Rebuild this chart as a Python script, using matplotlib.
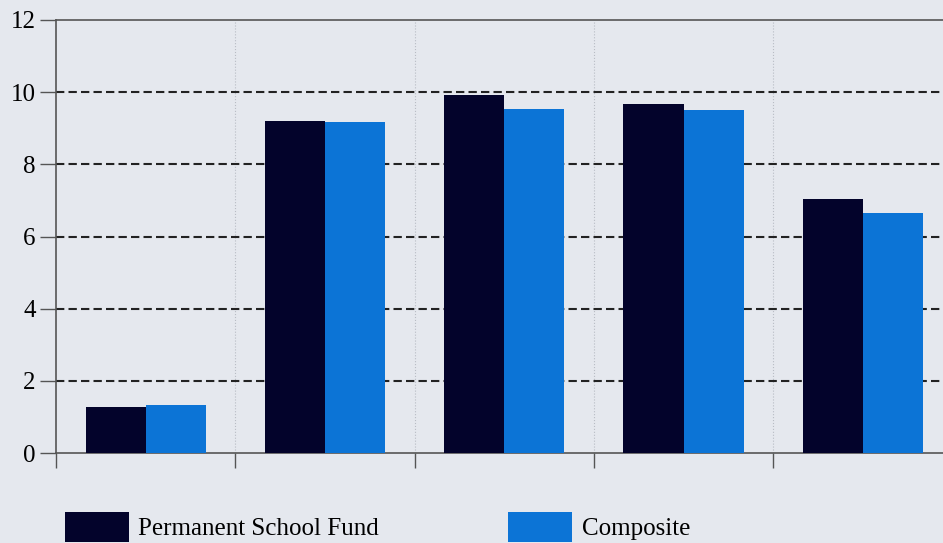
#!/usr/bin/env python3
"""Grouped bars: Permanent School Fund vs Composite."""

import matplotlib
matplotlib.use("Agg")
import matplotlib.pyplot as plt
import numpy as np
from matplotlib.patches import Patch

groups = ["1", "2", "3", "4", "5"]
fund_values = [1.28, 9.20, 9.92, 9.66, 7.05]
composite_values = [1.32, 9.17, 9.52, 9.50, 6.64]
series_names = ["Permanent School Fund", "Composite"]
y_ticks = [0, 2, 4, 6, 8, 10, 12]

DARK = "#03032b"
BLUE = "#0c74d6"
BG = "#e5e8ee"

plt.rcParams["font.family"] = ["Liberation Serif", "DejaVu Serif"]

fig = plt.figure(figsize=(9.43, 5.43), dpi=100, facecolor=BG)
ax = fig.add_axes([56 / 943, 90 / 543, 896.5 / 943, 433 / 543])
ax.set_facecolor(BG)

x = np.arange(len(groups))
w = 0.335
ax.bar(x - w / 2, fund_values, w, color=DARK, zorder=3)
ax.bar(x + w / 2, composite_values, w, color=BLUE, zorder=3)

ax.set_xlim(-0.5, len(groups) - 0.5)
ax.set_ylim(0, 12)
ax.set_yticks(y_ticks)
ax.set_yticklabels([str(t) for t in y_ticks], fontsize=18)

# category boundaries as x ticks, no labels
bounds = np.arange(len(groups) + 1) - 0.5
ax.set_xticks(bounds)
ax.set_xticklabels([])
ax.tick_params(axis="x", direction="out", length=11, width=1, color="#555555")
ax.tick_params(axis="y", direction="out", length=11.5, width=1, color="#555555", pad=3)

for b in bounds[1:-1]:
    ax.axvline(b, color="#b8bcc4", lw=0.8, ls=":", zorder=1)
for t in y_ticks[1:-1]:
    ax.axhline(t, color="#222222", lw=1.5, ls=(0, (4, 2)), zorder=2)

for side in ["top", "left", "bottom"]:
    ax.spines[side].set_color("#555555")
    ax.spines[side].set_linewidth(1.2)
ax.spines["right"].set_visible(False)

handles = [Patch(facecolor=DARK, edgecolor="none"), Patch(facecolor=BLUE, edgecolor="none")]
fig.legend(handles, series_names, loc="upper left",
           bbox_to_anchor=(42 / 943, 1 - 489 / 543), ncol=2, frameon=False,
           fontsize=18, handlelength=2.56, handleheight=1.5,
           handletextpad=0.4, columnspacing=5.16)

fig.savefig("out.png", dpi=100, facecolor=BG)
